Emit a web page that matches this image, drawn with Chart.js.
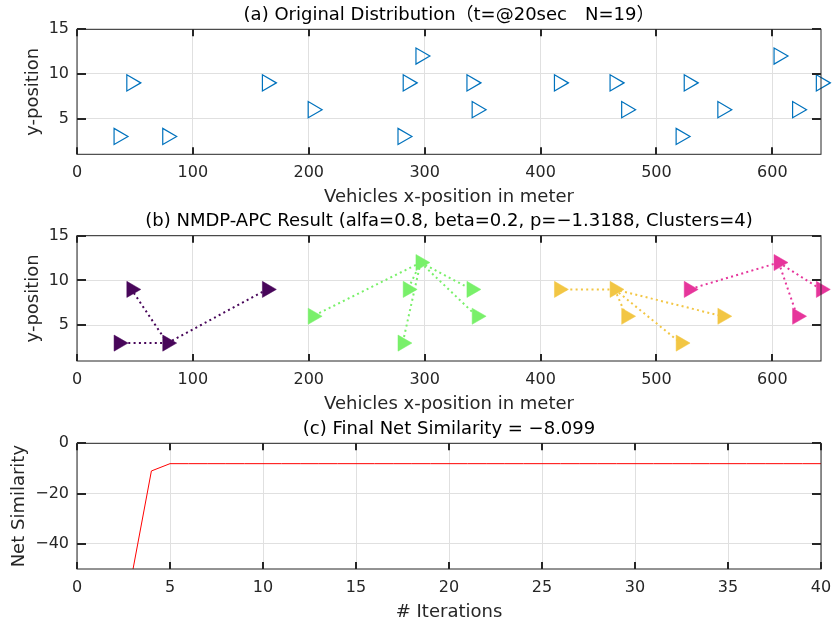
<!DOCTYPE html>
<html>
<head>
<meta charset="utf-8">
<script src="https://cdn.jsdelivr.net/npm/chart.js@4.4.1/dist/chart.umd.min.js"></script>
<style>
  html, body { margin: 0; padding: 0; background: #fff; }
  #wrap { position: relative; width: 832px; height: 626px; overflow: hidden; }
  .panel { position: absolute; left: 0; }
</style>
</head>
<body>
<div id="wrap">
  <canvas id="chartA" class="panel" width="832" height="207" style="top:0px"></canvas>
  <canvas id="chartB" class="panel" width="832" height="207" style="top:207px"></canvas>
  <canvas id="chartC" class="panel" width="832" height="212" style="top:414px"></canvas>
</div>
<script>
// vehicle positions at t = 20 s (x in meter, lane y)
const vehX = [36, 47, 78, 164, 203.5, 281, 285.5, 296.5, 340.5, 345, 416, 464, 474, 521, 528, 557, 605.5, 621.5, 642];
const vehY = [3, 9, 3, 9, 6, 3, 9, 12, 9, 6, 9, 9, 6, 3, 9, 6, 12, 6, 9];

// NMDP-APC clustering result
const clusterOf = [0, 0, 0, 0, 1, 1, 1, 1, 1, 1, 2, 2, 2, 2, 3, 2, 3, 3, 3];
const exemplars = [2, 7, 11, 16];
const clusterColors = ['#48065a', '#79f06a', '#f2c644', '#e6359b'];

const posXTicks = [0, 100, 200, 300, 400, 500, 600];
const posYTicks = [5, 10, 15];

// net similarity per iteration
const iterations = [1, 2, 3, 4, 5, 6, 7, 8, 9, 10, 11, 12, 13, 14, 15, 16, 17, 18, 19, 20,
  21, 22, 23, 24, 25, 26, 27, 28, 29, 30, 31, 32, 33, 34, 35, 36, 37, 38, 39, 40];
const netSim = [-190, -110, -50.5, -11, -8.099, -8.099, -8.099, -8.099, -8.099, -8.099,
  -8.099, -8.099, -8.099, -8.099, -8.099, -8.099, -8.099, -8.099, -8.099, -8.099,
  -8.099, -8.099, -8.099, -8.099, -8.099, -8.099, -8.099, -8.099, -8.099, -8.099,
  -8.099, -8.099, -8.099, -8.099, -8.099, -8.099, -8.099, -8.099, -8.099, -8.099];
const iterTicks = [0, 5, 10, 15, 20, 25, 30, 35, 40];
const simTicks = [-40, -20, 0];

const FONT = '"DejaVu Sans", "Noto Sans CJK JP", sans-serif';
const TICK_FS = 16;
const LABEL_FS = 18;
Chart.defaults.font.family = FONT;
Chart.defaults.font.size = TICK_FS;
Chart.defaults.color = '#262626';

function minusSign(v) {
  return String(v).replace('-', '\u2212');
}

function fixedTicks(values) {
  return scale => { scale.ticks = values.map(v => ({ value: v })); };
}

// box around the plot with inward ticks on all four sides
const axisBox = {
  id: 'axisBox',
  afterDraw(chart) {
    const { ctx, chartArea: a, scales } = chart;
    ctx.save();
    ctx.strokeStyle = '#262626';
    ctx.lineWidth = 1;
    ctx.strokeRect(a.left, a.top, a.right - a.left, a.bottom - a.top);
    ctx.lineWidth = 2;
    ctx.beginPath();
    scales.x.ticks.forEach(t => {
      const px = Math.round(scales.x.getPixelForValue(t.value));
      ctx.moveTo(px, a.bottom); ctx.lineTo(px, a.bottom - 7);
      ctx.moveTo(px, a.top); ctx.lineTo(px, a.top + 7);
    });
    scales.y.ticks.forEach(t => {
      const py = Math.round(scales.y.getPixelForValue(t.value));
      ctx.moveTo(a.left, py); ctx.lineTo(a.left + 9, py);
      ctx.moveTo(a.right, py); ctx.lineTo(a.right - 9, py);
    });
    ctx.stroke();
    ctx.restore();
  }
};

function panelOptions(p) {
  const halfTick = TICK_FS * 0.6;
  const halfLabel = LABEL_FS * 0.6;
  return {
    responsive: false,
    animation: false,
    events: [],
    layout: { padding: { left: 0, right: 11, top: 0, bottom: 0 } },
    plugins: {
      legend: { display: false },
      tooltip: { enabled: false },
      title: {
        display: true,
        fullSize: false,
        text: p.title,
        color: '#000',
        font: { size: LABEL_FS, weight: 'normal' },
        padding: { top: p.titleY - p.top - halfLabel, bottom: p.plotTop - p.titleY - halfLabel }
      }
    },
    scales: {
      x: {
        type: 'linear',
        min: p.xMin,
        max: p.xMax,
        afterBuildTicks: fixedTicks(p.xTicks),
        afterFit: s => {
          s.height = p.top + p.height - p.plotBottom;
          // edge labels may hang past the box, as in the original figure
          s.paddingLeft = 0;
          s.paddingRight = 0;
        },
        grid: { color: '#e0e0e0', drawTicks: false },
        border: { display: false },
        ticks: { padding: p.tickY - p.plotBottom - halfTick, maxRotation: 0, autoSkip: false, callback: minusSign },
        title: {
          display: true,
          text: p.xTitle,
          font: { size: LABEL_FS },
          padding: { top: 0, bottom: p.top + p.height - p.xTitleY - halfLabel }
        }
      },
      y: {
        type: 'linear',
        min: p.yMin,
        max: p.yMax,
        afterBuildTicks: fixedTicks(p.yTicks),
        afterFit: s => { s.width = 77; },
        grid: { color: '#e0e0e0', drawTicks: false },
        border: { display: false },
        ticks: { padding: 8, autoSkip: false, callback: minusSign },
        title: {
          display: true,
          text: p.yTitle,
          font: { size: LABEL_FS },
          padding: { top: p.yTitleX - halfLabel, bottom: 0 }
        }
      }
    }
  };
}

function points(idx) {
  return idx.map(i => ({ x: vehX[i], y: vehY[i] }));
}

const allIdx = vehX.map((_, i) => i);
const xMaxPos = Math.max(...vehX);

// (a) original distribution
new Chart(document.getElementById('chartA'), {
  type: 'scatter',
  data: {
    datasets: [{
      data: points(allIdx),
      pointStyle: 'triangle',
      pointRotation: 90,
      pointRadius: 9.3,
      pointBorderWidth: 1.2,
      pointBorderColor: '#0072bd',
      pointBackgroundColor: 'rgba(0,0,0,0)',
      clip: false
    }]
  },
  options: panelOptions({
    top: 0, height: 207, plotTop: 29.3, plotBottom: 154.3, titleY: 15.5, tickY: 173, xTitleY: 197, yTitleX: 33,
    title: '(a) Original Distribution\uFF08t=@20sec\u3000N=19\uFF09',
    xTitle: 'Vehicles x-position in meter', yTitle: 'y-position',
    xMin: 0, xMax: xMaxPos, xTicks: posXTicks, yMin: 1, yMax: 15, yTicks: posYTicks
  }),
  plugins: [axisBox]
});

// (b) clusters: markers plus dotted links from each member to its exemplar
const clusterSets = [];
exemplars.forEach((ex, c) => {
  const members = allIdx.filter(i => clusterOf[i] === c);
  clusterSets.push({
    data: points(members),
    order: 0,
    pointStyle: 'triangle',
    pointRotation: 90,
    pointRadius: 9.3,
    pointBorderWidth: 0.5,
    pointBorderColor: clusterColors[c],
    pointBackgroundColor: clusterColors[c],
    clip: false
  });
  members.filter(i => i !== ex).forEach(i => {
    clusterSets.push({
      data: points([ex, i]),
      order: 1,
      showLine: true,
      borderColor: clusterColors[c],
      borderWidth: 2,
      borderDash: [2, 3.3],
      pointRadius: 0,
      clip: false
    });
  });
});

new Chart(document.getElementById('chartB'), {
  type: 'scatter',
  data: { datasets: clusterSets },
  options: panelOptions({
    top: 207, height: 207, plotTop: 235.7, plotBottom: 361, titleY: 221, tickY: 380, xTitleY: 404, yTitleX: 33,
    title: '(b) NMDP-APC Result (alfa=0.8, beta=0.2, p=\u22121.3188, Clusters=4)',
    xTitle: 'Vehicles x-position in meter', yTitle: 'y-position',
    xMin: 0, xMax: xMaxPos, xTicks: posXTicks, yMin: 1, yMax: 15, yTicks: posYTicks
  }),
  plugins: [axisBox]
});

// (c) net similarity over iterations
new Chart(document.getElementById('chartC'), {
  type: 'scatter',
  data: {
    datasets: [{
      data: iterations.map((it, i) => ({ x: it, y: netSim[i] })),
      showLine: true,
      borderColor: '#ff0000',
      borderWidth: 1,
      pointRadius: 0
    }]
  },
  options: panelOptions({
    top: 414, height: 212, plotTop: 443.3, plotBottom: 569, titleY: 429, tickY: 588, xTitleY: 612, yTitleX: 19,
    title: '(c) Final Net Similarity = \u22128.099',
    xTitle: '# Iterations', yTitle: 'Net Similarity',
    xMin: 0, xMax: 40, xTicks: iterTicks, yMin: -50, yMax: 0, yTicks: simTicks
  }),
  plugins: [axisBox]
});
</script>
</body>
</html>
